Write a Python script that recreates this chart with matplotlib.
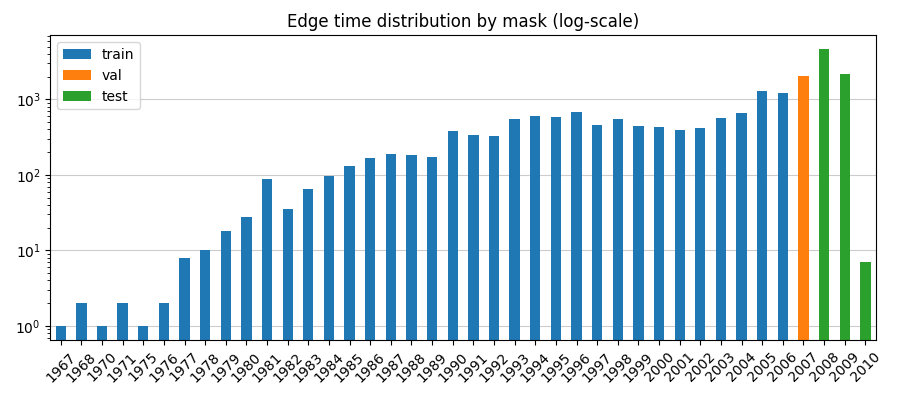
import matplotlib
matplotlib.use("Agg")
import matplotlib.pyplot as plt
import numpy as np

years = ["1967", "1968", "1970", "1971", "1975", "1976"] + [str(y) for y in range(1977, 2011)]
train = [1, 2, 1, 2, 1, 2, 8, 10, 18, 28, 87, 35, 66, 98, 133, 170, 192, 186, 175,
         386, 342, 331, 556, 610, 591, 689, 464, 556, 450, 436, 398, 423, 574, 668,
         1289, 1213, 0, 0, 0, 0]
val = [0] * 36 + [2036, 0, 0, 0]
test = [0] * 37 + [4634, 2163, 7]

fig, ax = plt.subplots(figsize=(9, 4), dpi=100)
fig.subplots_adjust(left=0.056, right=0.973, top=0.912, bottom=0.15)
x = np.arange(len(years))
ax.set_axisbelow(True)
ax.grid(axis="y", color="#cccccc", linewidth=0.8)
ax.bar(x, train, width=0.5, color="#1f77b4", label="train")
ax.bar(x, val, width=0.5, color="#ff7f0e", label="val")
ax.bar(x, test, width=0.5, color="#2ca02c", label="test")
ax.set_yscale("log")
ax.set_ylim(0.65, 7100)
ax.set_xlim(-0.5, len(years) - 0.5)
ax.set_xticks(x)
ax.set_xticklabels(years, rotation=45)
ax.set_title("Edge time distribution by mask (log-scale)")
ax.legend(loc="upper left")
fig.savefig("out.png")
